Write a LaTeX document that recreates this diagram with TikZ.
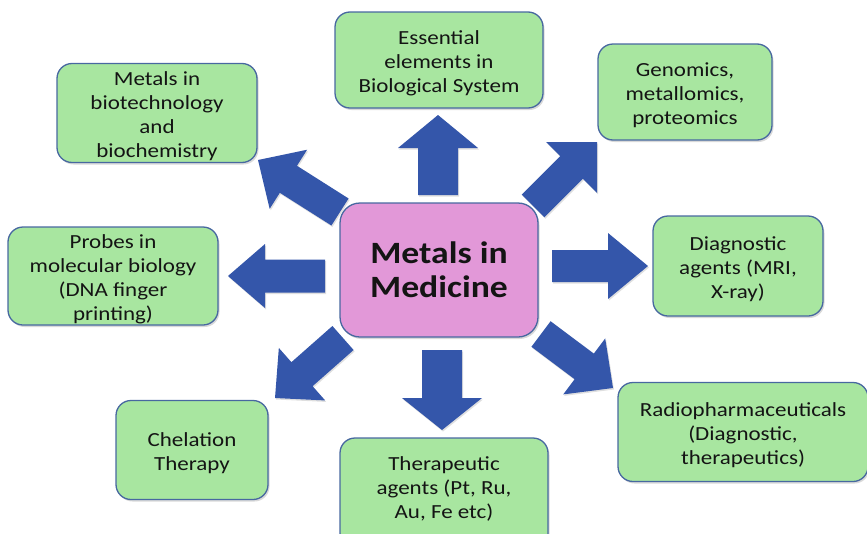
\documentclass[tikz,border=0pt]{standalone}
\usepackage{fontspec}
\setmainfont{Carlito}[FakeStretch=1.15]
\usetikzlibrary{calc,shadows}
\definecolor{boxgreen}{RGB}{168,230,160}
\definecolor{boxborder}{RGB}{72,104,160}
\definecolor{centerpink}{RGB}{226,152,216}
\definecolor{arrowblue}{RGB}{52,86,170}
\definecolor{txt}{RGB}{20,20,20}
\newcommand\topstrut{\rule{0pt}{21pt}}
\newcommand\blockarr[5]{% tail, tip, shaft half width, head half width, head length
  \coordinate (hb) at ($(#2)!#5!(#1)$);
  \fill[arrowblue, drop shadow={opacity=0.25,shadow xshift=1pt,shadow yshift=-1.5pt}]
    ($(#1)!#3!90:(#2)$) -- ($(hb)!#3!90:(#2)$) -- ($(hb)!#4!90:(#2)$) -- (#2)
    -- ($(hb)!#4!-90:(#2)$) -- ($(hb)!#3!-90:(#2)$) -- ($(#1)!#3!-90:(#2)$) -- cycle;
}
\begin{document}
\begin{tikzpicture}[x=1pt,y=-1pt,
  topic/.style={draw=boxborder, line width=1.3pt, fill=boxgreen, rounded corners=15pt,
    align=center, text=txt, inner sep=0pt,
    font=\fontsize{20}{24}\selectfont,
    drop shadow={opacity=0.3,shadow xshift=1.5pt,shadow yshift=-2pt}},
  hub/.style={draw=boxborder, line width=1.3pt, fill=centerpink, rounded corners=20pt,
    align=center, text=txt, inner sep=0pt,
    font=\fontsize{31}{34}\selectfont\bfseries,
    drop shadow={opacity=0.3,shadow xshift=1.5pt,shadow yshift=-2pt}}]
\useasboundingbox (0,0) rectangle (867,533);
\begin{scope}
\clip (0,0) rectangle (867,533);
% nodes
\node[hub, minimum width=198pt, minimum height=134pt] (c) at (439,270) {Metals in\\Medicine};
\node[topic, minimum width=208pt, minimum height=96pt] (ess) at (439,60) {\topstrut Essential\\elements in\\Biological System};
\node[topic, minimum width=174pt, minimum height=96pt] (gen) at (685,92) {\topstrut Genomics,\\metallomics,\\proteomics};
\node[topic, minimum width=200pt, minimum height=99pt] (bio) at (157,113) {\topstrut Metals in\\biotechnology\\and\\biochemistry};
\node[topic, minimum width=210pt, minimum height=98pt] (prb) at (113,276) {\topstrut Probes in\\molecular biology\\(DNA finger\\printing)};
\node[topic, minimum width=170pt, minimum height=100pt] (dia) at (738,266) {\topstrut Diagnostic\\agents (MRI,\\X-ray)};
\node[topic, minimum width=250pt, minimum height=99pt] (rad) at (743,432) {\topstrut Radiopharmaceuticals\\(Diagnostic,\\therapeutics)};
\node[topic, minimum width=152pt, minimum height=99pt] (che) at (192,450) {\topstrut Chelation\\Therapy};
\node[topic, minimum width=208pt, minimum height=110pt] (the) at (444,493) {};
\node[align=center, text=txt, font=\fontsize{20}{24}\selectfont] (thet) at (444,489) {Therapeutic\\agents (Pt, Ru,\\Au, Fe etc)};
% arrow anchor coordinates
\coordinate (upT) at (438,195);  \coordinate (upP) at (438,115);
\coordinate (dnT) at (442,350);  \coordinate (dnP) at (442,430);
\coordinate (rtT) at (552,266);  \coordinate (rtP) at (648,266);
\coordinate (ltT) at (325,276);  \coordinate (ltP) at (228,276);
\coordinate (urT) at (533,206);  \coordinate (urP) at (597,142);
\coordinate (ulT) at (340,212);  \coordinate (ulP) at (258,160);
\coordinate (drT) at (541,334);  \coordinate (drP) at (613,388);
\coordinate (dlT) at (343,338);  \coordinate (dlP) at (275,398);
\blockarr{upT}{upP}{20pt}{40pt}{33pt}
\blockarr{dnT}{dnP}{20pt}{40pt}{32pt}
\blockarr{rtT}{rtP}{16pt}{33pt}{40pt}
\blockarr{ltT}{ltP}{16.5pt}{32pt}{37pt}
\blockarr{urT}{urP}{16pt}{36pt}{36pt}
\blockarr{ulT}{ulP}{16pt}{35pt}{36pt}
\blockarr{drT}{drP}{16pt}{35pt}{36pt}
\blockarr{dlT}{dlP}{16pt}{35pt}{36pt}
\end{scope}
\end{tikzpicture}
\end{document}
